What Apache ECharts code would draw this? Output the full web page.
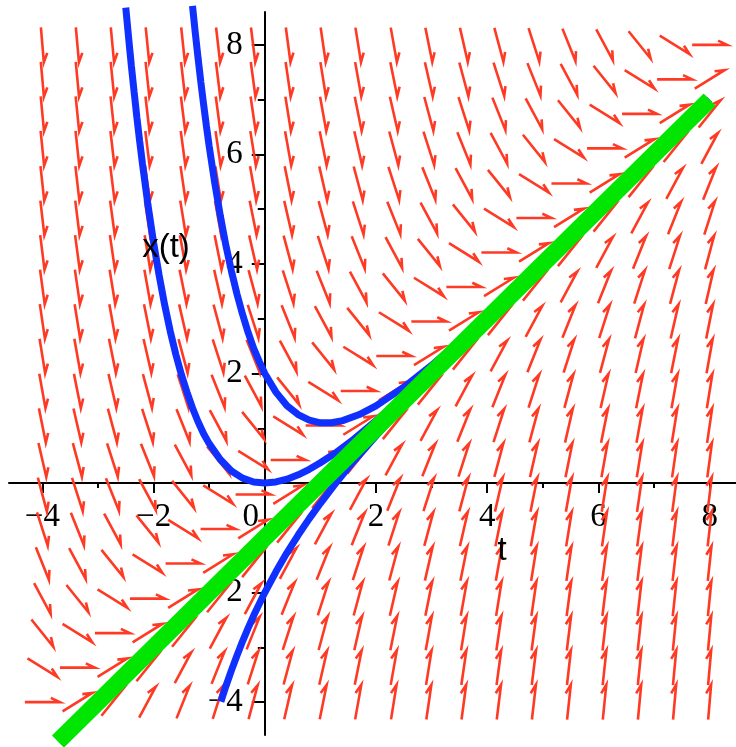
<!DOCTYPE html>
<html>
<head>
<meta charset="utf-8">
<script src="https://cdn.jsdelivr.net/npm/echarts@6/dist/echarts.min.js"></script>
<style>
  html, body { margin: 0; padding: 0; background: #fff; }
  #chart { width: 736px; height: 747px; }
</style>
</head>
<body>
<div id="chart"></div>
<script>
// direction field grid for x' = t - x (20 x 20)
const fieldT = [-4, -3.37, -2.74, -2.11, -1.47, -0.84, -0.21, 0.42, 1.05, 1.68, 2.32, 2.95, 3.58, 4.21, 4.84, 5.47, 6.11, 6.74, 7.37, 8]
const fieldX = [-4, -3.37, -2.74, -2.11, -1.47, -0.84, -0.21, 0.42, 1.05, 1.68, 2.32, 2.95, 3.58, 4.21, 4.84, 5.47, 6.11, 6.74, 7.37, 8]

// slopes[row][col], row follows fieldX, col follows fieldT
const slopes = [
  [0, .63, 1.26, 1.89, 2.53, 3.16, 3.79, 4.42, 5.05, 5.68, 6.32, 6.95, 7.58, 8.21, 8.84, 9.47, 10.11, 10.74, 11.37, 12],
  [-.63, 0, .63, 1.26, 1.89, 2.53, 3.16, 3.79, 4.42, 5.05, 5.68, 6.32, 6.95, 7.58, 8.21, 8.84, 9.47, 10.11, 10.74, 11.37],
  [-1.26, -.63, 0, .63, 1.26, 1.89, 2.53, 3.16, 3.79, 4.42, 5.05, 5.68, 6.32, 6.95, 7.58, 8.21, 8.84, 9.47, 10.11, 10.74],
  [-1.89, -1.26, -.63, 0, .63, 1.26, 1.89, 2.53, 3.16, 3.79, 4.42, 5.05, 5.68, 6.32, 6.95, 7.58, 8.21, 8.84, 9.47, 10.11],
  [-2.53, -1.89, -1.26, -.63, 0, .63, 1.26, 1.89, 2.53, 3.16, 3.79, 4.42, 5.05, 5.68, 6.32, 6.95, 7.58, 8.21, 8.84, 9.47],
  [-3.16, -2.53, -1.89, -1.26, -.63, 0, .63, 1.26, 1.89, 2.53, 3.16, 3.79, 4.42, 5.05, 5.68, 6.32, 6.95, 7.58, 8.21, 8.84],
  [-3.79, -3.16, -2.53, -1.89, -1.26, -.63, 0, .63, 1.26, 1.89, 2.53, 3.16, 3.79, 4.42, 5.05, 5.68, 6.32, 6.95, 7.58, 8.21],
  [-4.42, -3.79, -3.16, -2.53, -1.89, -1.26, -.63, 0, .63, 1.26, 1.89, 2.53, 3.16, 3.79, 4.42, 5.05, 5.68, 6.32, 6.95, 7.58],
  [-5.05, -4.42, -3.79, -3.16, -2.53, -1.89, -1.26, -.63, 0, .63, 1.26, 1.89, 2.53, 3.16, 3.79, 4.42, 5.05, 5.68, 6.32, 6.95],
  [-5.68, -5.05, -4.42, -3.79, -3.16, -2.53, -1.89, -1.26, -.63, 0, .63, 1.26, 1.89, 2.53, 3.16, 3.79, 4.42, 5.05, 5.68, 6.32],
  [-6.32, -5.68, -5.05, -4.42, -3.79, -3.16, -2.53, -1.89, -1.26, -.63, 0, .63, 1.26, 1.89, 2.53, 3.16, 3.79, 4.42, 5.05, 5.68],
  [-6.95, -6.32, -5.68, -5.05, -4.42, -3.79, -3.16, -2.53, -1.89, -1.26, -.63, 0, .63, 1.26, 1.89, 2.53, 3.16, 3.79, 4.42, 5.05],
  [-7.58, -6.95, -6.32, -5.68, -5.05, -4.42, -3.79, -3.16, -2.53, -1.89, -1.26, -.63, 0, .63, 1.26, 1.89, 2.53, 3.16, 3.79, 4.42],
  [-8.21, -7.58, -6.95, -6.32, -5.68, -5.05, -4.42, -3.79, -3.16, -2.53, -1.89, -1.26, -.63, 0, .63, 1.26, 1.89, 2.53, 3.16, 3.79],
  [-8.84, -8.21, -7.58, -6.95, -6.32, -5.68, -5.05, -4.42, -3.79, -3.16, -2.53, -1.89, -1.26, -.63, 0, .63, 1.26, 1.89, 2.53, 3.16],
  [-9.47, -8.84, -8.21, -7.58, -6.95, -6.32, -5.68, -5.05, -4.42, -3.79, -3.16, -2.53, -1.89, -1.26, -.63, 0, .63, 1.26, 1.89, 2.53],
  [-10.11, -9.47, -8.84, -8.21, -7.58, -6.95, -6.32, -5.68, -5.05, -4.42, -3.79, -3.16, -2.53, -1.89, -1.26, -.63, 0, .63, 1.26, 1.89],
  [-10.74, -10.11, -9.47, -8.84, -8.21, -7.58, -6.95, -6.32, -5.68, -5.05, -4.42, -3.79, -3.16, -2.53, -1.89, -1.26, -.63, 0, .63, 1.26],
  [-11.37, -10.74, -10.11, -9.47, -8.84, -8.21, -7.58, -6.95, -6.32, -5.68, -5.05, -4.42, -3.79, -3.16, -2.53, -1.89, -1.26, -.63, 0, .63],
  [-12, -11.37, -10.74, -10.11, -9.47, -8.84, -8.21, -7.58, -6.95, -6.32, -5.68, -5.05, -4.42, -3.79, -3.16, -2.53, -1.89, -1.26, -.63, 0],
]

// solution curves [t, x]
const curveFrom2 = [
  [-1.3, 8.71], [-1.25, 8.22], [-1.2, 7.76], [-1.15, 7.32], [-1.1, 6.91], [-1.05, 6.52], [-1, 6.15],
  [-0.9, 5.48], [-0.8, 4.88], [-0.7, 4.34], [-0.6, 3.87], [-0.5, 3.45], [-0.4, 3.08], [-0.3, 2.75],
  [-0.2, 2.46], [-0.1, 2.22], [0, 2], [0.2, 1.66], [0.4, 1.41], [0.6, 1.25], [0.8, 1.15], [1, 1.10],
  [1.2, 1.10], [1.4, 1.14], [1.7, 1.25], [2, 1.41], [2.5, 1.75], [3, 2.15], [3.5, 2.59], [4, 3.05],
  [5, 4.02], [6, 5.01], [8, 7.00],
]
const curveFrom0 = [
  [-2.5, 8.68], [-2.45, 8.14], [-2.4, 7.62], [-2.35, 7.14], [-2.3, 6.67], [-2.25, 6.24], [-2.2, 5.83],
  [-2.1, 5.07], [-2, 4.39], [-1.9, 3.79], [-1.8, 3.25], [-1.7, 2.77], [-1.6, 2.35], [-1.5, 1.98],
  [-1.4, 1.66], [-1.3, 1.37], [-1.2, 1.12], [-1.1, 0.90], [-1, 0.72], [-0.8, 0.43], [-0.6, 0.22],
  [-0.4, 0.09], [-0.2, 0.02], [0, 0], [0.2, 0.02], [0.4, 0.07], [0.6, 0.15], [0.8, 0.25], [1, 0.37],
  [1.3, 0.57], [1.6, 0.80], [2, 1.14], [2.5, 1.58], [3, 2.05], [4, 3.02], [5, 4.01], [6, 5.00], [8, 7.00],
]
const curveFromM2 = [
  [-0.79, -3.99], [-0.7, -3.71], [-0.6, -3.42], [-0.5, -3.15], [-0.4, -2.89], [-0.3, -2.65],
  [-0.2, -2.42], [-0.1, -2.21], [0, -2], [0.2, -1.62], [0.4, -1.27], [0.6, -0.95], [0.8, -0.65],
  [1, -0.37], [1.3, 0.03], [1.6, 0.40], [2, 0.86], [2.5, 1.42], [3, 1.95], [4, 2.98], [5, 3.99],
  [6, 5.00], [8, 7.00],
]
// straight solution x = t - 1
const lineSolution = [[-3.72, -4.72], [8, 7]]

const majorTicks = [-4, -2, 0, 2, 4, 6, 8]
const minorTicks = [-3, -1, 1, 3, 5, 7]
const yLabelTicks = [-4, -2, 2, 4, 6, 8]

const T_MIN = -4.6, T_MAX = 8.6, X_MIN = -4.6, X_MAX = 8.6
const GRID = { left: 9, right: -7, top: 12, bottom: 12 }
const W = 736, H = 747

// axes sit on the origin; shift them in from the grid edges
const plotW = W - GRID.left - GRID.right
const plotH = H - GRID.top - GRID.bottom
const xAxisOffset = -plotH * (0 - X_MIN) / (X_MAX - X_MIN)
const yAxisOffset = -plotW * (0 - T_MIN) / (T_MAX - T_MIN)

const ARROW_LEN = 35
const BARB_LEN = 10
const BARB_ANGLE = 25 * Math.PI / 180
const arrowColor = '#ff3a24'

const fieldData = []
fieldX.forEach((x, j) => {
  fieldT.forEach((t, i) => {
    fieldData.push([t, x, slopes[j][i]])
  })
})

const labelFont = { fontFamily: '"Liberation Serif", "Times New Roman", serif', fontSize: 33, color: '#000' }
const fmt = (v) => (v === 0 ? '{z|0}' : v < 0 ? '\u2212' + (-v) : String(v))
const tickStyle = { color: '#000', width: 2 }

const renderArrow = (params, api) => {
  const t = api.value(0)
  const x = api.value(1)
  const m = api.value(2)
  const p = api.coord([t, x])
  const q = api.coord([t + 0.01, x + 0.01 * m])
  let dx = q[0] - p[0]
  let dy = q[1] - p[1]
  const n = Math.hypot(dx, dy)
  dx /= n
  dy /= n
  const h = ARROW_LEN / 2
  const tail = [p[0] - dx * h, p[1] - dy * h]
  const tip = [p[0] + dx * h, p[1] + dy * h]
  const c = Math.cos(BARB_ANGLE)
  const s = Math.sin(BARB_ANGLE)
  const barb = [tip[0] + (-dx * c + dy * s) * BARB_LEN, tip[1] + (-dx * s - dy * c) * BARB_LEN]
  return {
    type: 'polyline',
    shape: { points: [tail, tip, barb] },
    style: { stroke: arrowColor, lineWidth: 2.6, fill: null },
  }
}

const chart = echarts.init(document.getElementById('chart'))
chart.setOption({
  animation: false,
  backgroundColor: '#fff',
  grid: { ...GRID, containLabel: false, outerBoundsMode: 'none' },
  xAxis: [
    {
      type: 'value', min: T_MIN, max: T_MAX, position: 'bottom', offset: xAxisOffset,
      axisLine: { onZero: false, lineStyle: tickStyle },
      axisTick: { customValues: majorTicks, length: 10, lineStyle: tickStyle },
      axisLabel: { customValues: majorTicks, margin: 18, formatter: fmt, ...labelFont,
        hideOverlap: false, rich: { z: { ...labelFont, padding: [0, 28, 0, 0] } } },
      splitLine: { show: false },
    },
    {
      type: 'value', min: T_MIN, max: T_MAX, position: 'bottom', offset: xAxisOffset,
      axisLine: { show: false, onZero: false },
      axisTick: { customValues: minorTicks, length: 5, lineStyle: tickStyle },
      axisLabel: { show: false },
      splitLine: { show: false },
    },
  ],
  yAxis: [
    {
      type: 'value', min: X_MIN, max: X_MAX, position: 'left', offset: yAxisOffset,
      axisLine: { onZero: false, lineStyle: tickStyle },
      axisTick: { customValues: majorTicks, length: 13, lineStyle: tickStyle },
      axisLabel: { customValues: yLabelTicks, margin: 22, formatter: fmt, ...labelFont, hideOverlap: false },
      splitLine: { show: false },
    },
    {
      type: 'value', min: X_MIN, max: X_MAX, position: 'left', offset: yAxisOffset,
      axisLine: { show: false, onZero: false },
      axisTick: { customValues: minorTicks, length: 7, lineStyle: tickStyle },
      axisLabel: { show: false },
      splitLine: { show: false },
    },
  ],
  series: [
    {
      type: 'custom',
      renderItem: renderArrow,
      data: fieldData,
      encode: { x: 0, y: 1 },
      clip: false,
      z: 1,
    },
    ...[curveFrom2, curveFrom0, curveFromM2].map((d) => ({
      type: 'line',
      data: d,
      showSymbol: false,
      clip: false,
      lineStyle: { color: '#1030ff', width: 7 },
      z: 3,
    })),
    {
      type: 'line',
      data: lineSolution,
      showSymbol: false,
      clip: false,
      lineStyle: { color: '#00e600', width: 17, cap: 'butt' },
      z: 4,
    },
  ],
  graphic: [
    { type: 'text', x: 502, y: 551, z: 10,
      style: { text: 't', fontFamily: 'Liberation Sans', fontSize: 33, fill: '#000', align: 'center', verticalAlign: 'middle' } },
    { type: 'text', x: 166, y: 248, z: 10,
      style: { text: 'x(t)', fontFamily: 'Liberation Sans', fontSize: 33, fill: '#000', align: 'center', verticalAlign: 'middle' } },
  ],
})
</script>
</body>
</html>
